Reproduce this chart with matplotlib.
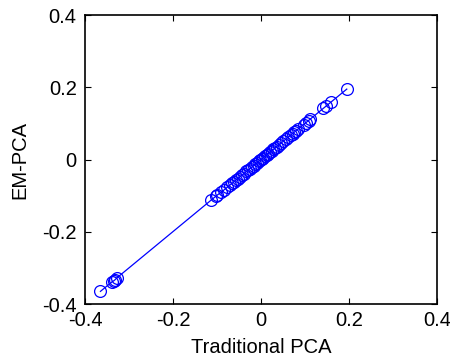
import matplotlib
matplotlib.use("Agg")
import matplotlib.pyplot as plt

traditional_pca = [-0.365, -0.338, -0.335, -0.332, -0.328,
                   -0.113, -0.102, -0.099, -0.090, -0.083, -0.077, -0.071, -0.066,
                   -0.061, -0.057, -0.053, -0.048, -0.044, -0.039, -0.033, -0.029,
                   -0.025, -0.021, -0.017, -0.013, -0.009, -0.005, -0.002, 0.002,
                   0.005, 0.009, 0.013, 0.016, 0.020, 0.024, 0.028, 0.032, 0.036,
                   0.041, 0.046, 0.051, 0.057, 0.062, 0.068, 0.072, 0.076, 0.080,
                   0.085, 0.097, 0.102, 0.108, 0.111, 0.142, 0.148, 0.158, 0.195]
em_pca = [-0.365, -0.338, -0.336, -0.333, -0.328,
          -0.112, -0.101, -0.098, -0.090, -0.083, -0.077, -0.071, -0.066,
          -0.061, -0.057, -0.053, -0.048, -0.044, -0.039, -0.033, -0.029,
          -0.025, -0.021, -0.017, -0.013, -0.009, -0.005, -0.002, 0.002,
          0.005, 0.009, 0.013, 0.016, 0.020, 0.024, 0.028, 0.032, 0.036,
          0.041, 0.046, 0.051, 0.057, 0.062, 0.068, 0.072, 0.076, 0.080,
          0.085, 0.097, 0.102, 0.108, 0.111, 0.142, 0.148, 0.158, 0.195]
ticks = [-0.4, -0.2, 0, 0.2, 0.4]
tick_labels = ["-0.4", "-0.2", "0", "0.2", "0.4"]

plt.rcParams['font.family'] = ['Liberation Sans', 'DejaVu Sans']
fig = plt.figure(figsize=(4.5, 3.63), dpi=100)
ax = fig.add_axes([0.189, 0.1625, 0.782, 0.796])
ax.plot(traditional_pca, em_pca, '-o', color='#0000ff', linewidth=0.9,
        markersize=8.5, markerfacecolor='none', markeredgewidth=0.9)
ax.set_xlim(-0.4, 0.4)
ax.set_ylim(-0.4, 0.4)
ax.set_xticks(ticks)
ax.set_xticklabels(tick_labels)
ax.set_yticks(ticks)
ax.set_yticklabels(tick_labels)
ax.tick_params(direction='in', top=True, right=True, length=4, width=0.8,
               labelsize=14.5)
ax.tick_params(axis='y', pad=6)
ax.tick_params(axis='x', pad=5)
for s in ax.spines.values():
    s.set_linewidth(1.2)
ax.set_xlabel("Traditional PCA", fontsize=14.5, labelpad=6)
ax.set_ylabel("EM-PCA", fontsize=14.5, labelpad=9)
fig.savefig("out.png", dpi=100)
